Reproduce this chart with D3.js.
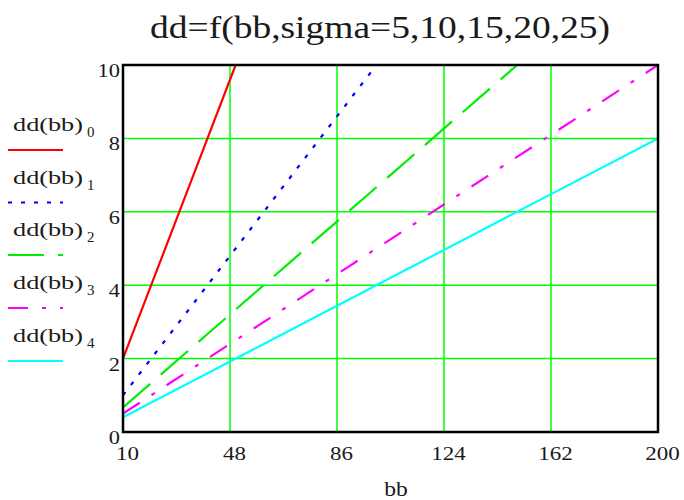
<!DOCTYPE html>
<html>
<head>
<meta charset="utf-8">
<script src="https://cdn.jsdelivr.net/npm/d3@7"></script>
<style>
  html, body { margin: 0; padding: 0; background: #fff; }
  svg { display: block; }
</style>
</head>
<body>
<svg id="chart" width="684" height="500"></svg>
<script>
// ---- data ----
const titleText = "dd=f(bb,sigma=5,10,15,20,25)";
const xLabel = "bb";
const xTicks = [10, 48, 86, 124, 162, 200];
const yTicks = [0, 2, 4, 6, 8, 10];
const seriesNames = ["dd(bb)", "dd(bb)", "dd(bb)", "dd(bb)", "dd(bb)"];
const seriesIdx = ["0", "1", "2", "3", "4"];
const seriesColors = ["#ff0000", "#0000ff", "#00ee00", "#ff00ff", "#00ffff"];
const seriesDash = [null, "4,9", "36,14", "20,14,4,14", null];
const s0 = [[10, 2.0], [20, 4.0], [30, 6.0], [40, 8.0], [50, 10.0]];
const s1 = [[10, 1.0], [30, 3.0], [50, 5.0], [70, 7.0], [90, 9.0], [100, 10.0]];
const s2 = [[10, 0.67], [40, 2.67], [70, 4.67], [100, 6.67], [130, 8.67], [150, 10.0]];
const s3 = [[10, 0.5], [50, 2.5], [90, 4.5], [130, 6.5], [170, 8.5], [200, 10.0]];
const s4 = [[10, 0.4], [60, 2.4], [110, 4.4], [160, 6.4], [200, 8.0]];
const seriesData = [s0, s1, s2, s3, s4];

// ---- layout ----
const FONT = "'Liberation Serif', 'Times New Roman', Times, serif";
const svg = d3.select("#chart");
const L = 123, R = 658, T = 65, B = 432;
const x = d3.scaleLinear().domain([10, 200]).range([L, R]);
const y = d3.scaleLinear().domain([0, 10]).range([B, T]);

function txt(sel) {
  return sel.append("text").attr("font-family", FONT).attr("fill", "#1a1a1a");
}

// title
txt(svg)
  .attr("x", 380).attr("y", 38)
  .attr("text-anchor", "middle")
  .attr("font-size", 31)
  .attr("textLength", 460).attr("lengthAdjust", "spacingAndGlyphs")
  .text(titleText);

// grid
const grid = svg.append("g");
grid.selectAll("line.gx").data(xTicks.slice(1, -1)).enter().append("line")
  .attr("x1", d => x(d)).attr("x2", d => x(d))
  .attr("y1", T).attr("y2", B)
  .attr("stroke", "#00ff00").attr("stroke-width", 1.5);
grid.selectAll("line.gy").data(yTicks.slice(1, -1)).enter().append("line")
  .attr("x1", L).attr("x2", R)
  .attr("y1", d => y(d)).attr("y2", d => y(d))
  .attr("stroke", "#00ff00").attr("stroke-width", 1.5);

// clip
svg.append("clipPath").attr("id", "clip")
  .append("rect").attr("x", L).attr("y", T).attr("width", R - L).attr("height", B - T);

const line = d3.line().x(d => x(d[0])).y(d => y(d[1]));
const plot = svg.append("g").attr("clip-path", "url(#clip)");
seriesData.forEach((s, i) => {
  plot.append("path")
    .attr("d", line(s))
    .attr("fill", "none")
    .attr("stroke", seriesColors[i])
    .attr("stroke-width", 2.2)
    .attr("stroke-dasharray", seriesDash[i]);
});

// frame
svg.append("rect")
  .attr("x", L).attr("y", T).attr("width", R - L).attr("height", B - T)
  .attr("fill", "none").attr("stroke", "#000").attr("stroke-width", 2.5);

// x tick labels
xTicks.forEach(t => {
  txt(svg)
    .attr("transform", `translate(${x(t) + 4.5},460) scale(1.18,1)`)
    .attr("text-anchor", "middle")
    .attr("font-size", 19.5)
    .text(t);
});
// y tick labels
yTicks.forEach(t => {
  txt(svg)
    .attr("transform", `translate(120,${y(t) + 12}) scale(1.15,1)`)
    .attr("text-anchor", "end")
    .attr("font-size", 19.5)
    .text(t);
});

// x axis label
txt(svg)
  .attr("transform", "translate(396,496) scale(1.18,1)")
  .attr("text-anchor", "middle")
  .attr("font-size", 20)
  .text(xLabel);

// legend
const legTextY = [131, 183.5, 236, 289, 341.5];
const legLineY = [150, 202.5, 255, 308, 361];
seriesNames.forEach((n, i) => {
  txt(svg)
    .attr("x", 13).attr("y", legTextY[i])
    .attr("font-size", 18.5)
    .attr("textLength", 70).attr("lengthAdjust", "spacingAndGlyphs")
    .text(n);
  txt(svg)
    .attr("x", 87).attr("y", legTextY[i] + 6)
    .attr("font-size", 15)
    .text(seriesIdx[i]);
  svg.append("line")
    .attr("x1", 8).attr("x2", 63)
    .attr("y1", legLineY[i]).attr("y2", legLineY[i])
    .attr("stroke", seriesColors[i])
    .attr("stroke-width", 2.2)
    .attr("stroke-dasharray", seriesDash[i]);
});
</script>
</body>
</html>
